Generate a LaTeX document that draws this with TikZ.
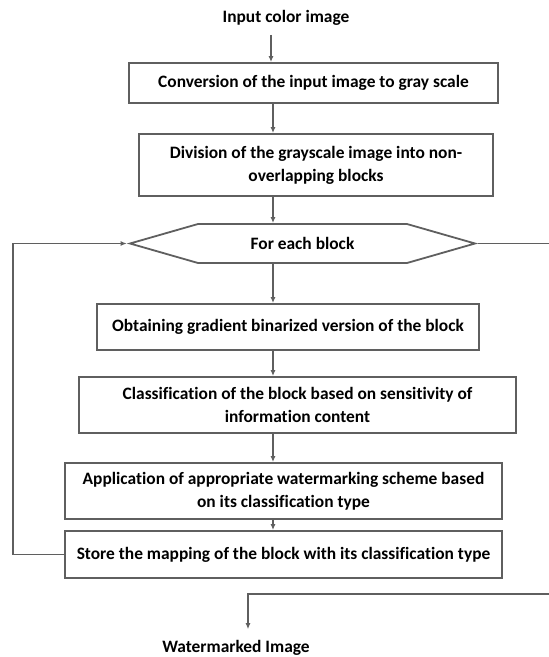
\documentclass[tikz,border=0pt]{standalone}
\usepackage{fontspec}
\setmainfont[Ligatures=NoCommon]{Carlito}
\usetikzlibrary{positioning,arrows.meta,shapes.symbols}
\definecolor{linegray}{HTML}{5F5F5F}
\tikzset{
stagebox/.style={
  draw=linegray,
  line width=1.8pt,
  rectangle,
  align=center,
  inner sep=0pt,
  font=\bfseries\fontsize{17.4}{23}\selectfont
},
loopbox/.style={
  stagebox,
  signal,
  signal to=west and east,
  signal pointer angle=32
},
plaintext/.style={font=\bfseries\fontsize{17.4}{23}\selectfont, inner sep=2pt},
flow/.style={draw=linegray, line width=1.8pt, -{Latex[length=6pt,width=5pt]}},
wire/.style={draw=linegray, line width=1.8pt},
}

\begin{document}
\begin{tikzpicture}[x=1pt,y=-1pt]
\useasboundingbox (0,0) rectangle (549,657);
% helper columns
\coordinate (ax0) at (271,0);
\coordinate (ax) at (273,0);
\coordinate (lx) at (13,0);
\coordinate (rightout) at (549,246);
\coordinate (bottomin) at (549,594);
\coordinate (turn) at (248,594);

\node[plaintext] (input) at (286,18) {Input color image};
\node[stagebox, minimum width=369pt, minimum height=40pt] (conv) at (313.5,83)
  {Conversion of the input image to gray scale};
\node[stagebox, minimum width=354pt, minimum height=62pt] (divide) at (316,165)
  {Division of the grayscale image into non-\\overlapping blocks};
\node[loopbox, minimum width=345pt, minimum height=39pt] (each) at (302.5,243.5)
  {For each block};
\node[stagebox, minimum width=382pt, minimum height=46pt] (grad) at (288,327)
  {Obtaining gradient binarized version of the block};
\node[stagebox, minimum width=437pt, minimum height=56pt] (classify) at (297.5,405)
  {Classification of the block based on sensitivity of\\information content};
\node[stagebox, minimum width=437pt, minimum height=56pt] (apply) at (283.5,491)
  {Application of appropriate watermarking scheme based\\on its classification type};
\node[stagebox, minimum width=437pt, minimum height=47pt] (store) at (283.5,554.5)
  {Store the mapping of the block with its classification type};
\node[plaintext] (output) at (236,648) {Watermarked Image};

% main flow
\draw[flow, shorten <=7pt] (input.south -| ax0) -- (conv.north -| ax0);
\draw[flow] (conv.south -| ax) -- (divide.north -| ax);
\draw[flow] (divide.south -| ax) -- (each.north -| ax);
\draw[flow] (each.south -| ax) -- (grad.north -| ax);
\draw[flow] (grad.south -| ax) -- (classify.north -| ax);
\draw[flow] (classify.south -| ax) -- (apply.north -| ax);
\draw[flow] (apply.south -| ax) -- (store.north -| ax);

% loop back
\draw[flow] (store.west) -- (store.west -| lx) |- (each.west);
\draw[wire] (each.east) -- (each.east -| rightout);
\draw[flow, shorten >=9pt] (bottomin) -- (turn) -- (output.north -| turn);
\end{tikzpicture}
\end{document}
